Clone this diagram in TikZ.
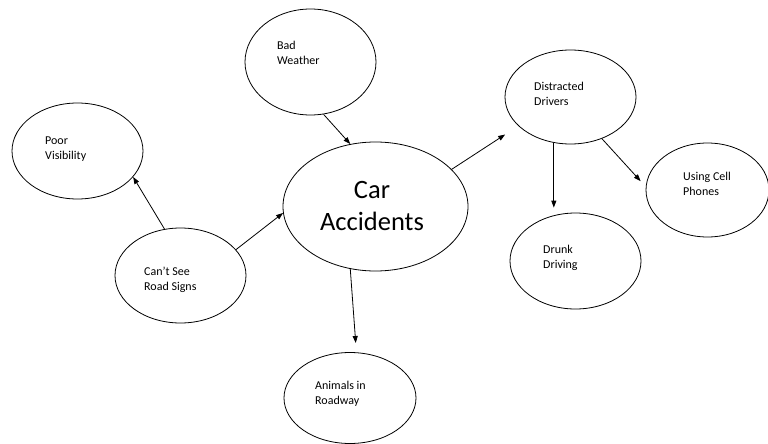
\documentclass[tikz,border=0pt]{standalone}
\usepackage{fontspec}
\setmainfont{Carlito}
\usetikzlibrary{shapes.geometric,arrows.meta}
\begin{document}
\begin{tikzpicture}[x=1pt,y=-1pt,
  bubble/.style={draw, ellipse, line width=0.8pt, inner sep=0pt},
  lbl/.style={anchor=base west, align=left, inner sep=0pt, font=\fontsize{12}{15}\selectfont},
  conn/.style={line width=0.8pt, -{Triangle[length=7pt,width=5pt]}}]
\useasboundingbox[fill=white] (0,0) rectangle (768,444);
% bubbles
\node[bubble, minimum width=131pt, minimum height=106pt] (bw) at (310.5,62) {};
\node[bubble, minimum width=131pt, minimum height=96pt] (pv) at (77.5,151) {};
\node[bubble, minimum width=185pt, minimum height=129pt] (car) at (375.5,206.5) {};
\node[bubble, minimum width=131pt, minimum height=94pt] (dd) at (570.5,97) {};
\node[bubble, minimum width=123pt, minimum height=94pt] (ucp) at (707.5,190) {};
\node[bubble, minimum width=131pt, minimum height=96pt] (drk) at (575.5,261) {};
\node[bubble, minimum width=131pt, minimum height=95pt] (csr) at (180.5,275.5) {};
\node[bubble, minimum width=132pt, minimum height=91pt] (air) at (350,398) {};
% labels (base anchor = baseline of the last line)
\node[lbl] (bwt) at (277,65) {Bad\\Weather};
\node[lbl] (pvt) at (45,159) {Poor\\Visibility};
\node[lbl] (ddt) at (534,105.5) {Distracted\\Drivers};
\node[lbl] (ucpt) at (683,195) {Using Cell\\Phones};
\node[lbl] (drkt) at (543,268.5) {Drunk\\Driving};
\node[lbl] (csrt) at (144,290.3) {Can’t See\\Road Signs};
\node[lbl] (airt) at (315,404.3) {Animals in\\Roadway};
\node[anchor=base, align=center, inner sep=0pt, font=\fontsize{26.5}{32.5}\selectfont] (cart) at (372,230.7) {Car\\Accidents};
% connectors
\draw[conn] (bw.-76.3) -- (car.112.8);
\draw[conn] (csr.109.8) -- (pv.-25.2);
\draw[conn] (csr.25.1) -- (car.-176.6);
\draw[conn, shorten >=15.7pt] (car.26.7) -- (dd.-151.4);
\draw[conn, shorten >=5pt] (dd.-110.8) -- (dd.-110.8 |- drk.north);
\draw[conn, shorten >=7.6pt] (dd.-53.1) -- (ucp.177.8);
\draw[conn, shorten >=9.3pt] (car.-112.8) -- (air.82.5);
\end{tikzpicture}
\end{document}
